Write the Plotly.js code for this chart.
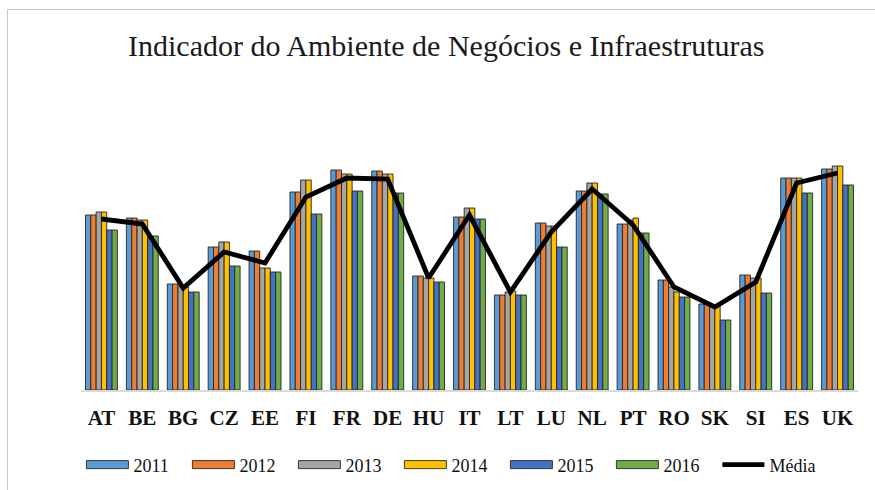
<!DOCTYPE html>
<html>
<head>
<meta charset="utf-8">
<script src="https://cdn.plot.ly/plotly-3.0.1.min.js"></script>
<style>
html,body{margin:0;padding:0;background:#fff;}
#wrap{position:relative;width:875px;height:490px;}
#chart{width:875px;height:490px;}
#frame{position:absolute;left:7px;top:9px;right:-5px;bottom:-5px;border-left:1.5px solid #c9c9c9;border-top:1.5px solid #c9c9c9;pointer-events:none;}
</style>
</head>
<body>
<div id="wrap"><div id="chart"></div><div id="frame"></div></div>
<script>
const countries = ["AT","BE","BG","CZ","EE","FI","FR","DE","HU","IT","LT","LU","NL","PT","RO","SK","SI","ES","UK"];
const years = ["2011","2012","2013","2014","2015","2016"];
const v2011 = [175,172,106,143,139,198,220,219,114,173,95,167,199,166,110,86,115,212,221];
const v2012 = [175,172,106,143,139,198,220,219,114,173,95,167,199,166,110,86,115,212,221];
const v2013 = [178,170,104,148,122,210,216,216,112,182,98,164,207,170,103,85,112,212,224];
const v2014 = [178,170,103,148,122,210,216,216,112,182,99,164,207,172,98,85,112,212,224];
const v2015 = [160,154,98,124,118,176,199,197,108,171,95,143,196,157,93,70,97,197,205];
const v2016 = [160,154,98,124,118,176,199,197,108,171,95,143,196,157,93,70,97,197,205];
const media = [171,166,102,138,127,193,212,211,112,175,98,158,201,165,103,83,108,207,217];
const seriesValues = [v2011,v2012,v2013,v2014,v2015,v2016];
const colors = ["#5B9BD5","#ED7D31","#A5A5A5","#FFC000","#4472C4","#70AD47"];

const traces = seriesValues.map((vals,i)=>({
  type:'bar', name:years[i], x:countries, y:vals,
  marker:{color:colors[i], line:{color:'#262626', width:0.9}}
}));
traces.push({type:'scatter', mode:'lines', name:'Média', x:countries, y:media,
  line:{color:'#000', width:4.8}});
const serif = 'Times New Roman, Liberation Serif, serif';
const layout = {
  width:875, height:490,
  margin:{l:81, r:17, t:60, b:100, autoexpand:false},
  paper_bgcolor:'rgba(0,0,0,0)', plot_bgcolor:'rgba(0,0,0,0)',
  font:{family:serif, color:'#111'},
  title:{text:'Indicador do Ambiente de Negócios e Infraestruturas',
    font:{family:serif, size:30, color:'#1a1a1a', weight:'normal'}, x:0.51, xanchor:'center', y:0.908, yanchor:'middle'},
  barmode:'group', bargap:0.22, bargroupgap:0,
  xaxis:{type:'category', showgrid:false, zeroline:false, showline:true, linecolor:'#d9d9d9', linewidth:1.5,
    ticks:'', tickfont:{family:serif, size:21, color:'#111', weight:'bold'}, ticklabelstandoff:8},
  yaxis:{range:[0,330], visible:false, showgrid:false, zeroline:false, fixedrange:true},
  showlegend:true,
  legend:{orientation:'h', x:0.478, xanchor:'center', y:-0.227, yanchor:'middle',
    font:{family:serif, size:18, color:'#111', weight:'normal'}, itemwidth:42, entrywidth:49, traceorder:'normal', bgcolor:'rgba(0,0,0,0)'}
};
Plotly.newPlot('chart', traces, layout, {displayModeBar:false, staticPlot:true}).then(()=>{
  document.querySelectorAll('.legend .traces').forEach(tr=>{
    tr.querySelectorAll('.legendpoints path').forEach(p=>{
      const d = p.getAttribute('d')||'';
      if(d.indexOf('M6,6H-6V-6H6Z')===0){ p.setAttribute('d','M21,4H-21V-4H21Z'); }
    });
    tr.querySelectorAll('.legendlines path').forEach(p=>{
      p.setAttribute('d','M5,0h42');
    });
  });
});
</script>
</body>
</html>
